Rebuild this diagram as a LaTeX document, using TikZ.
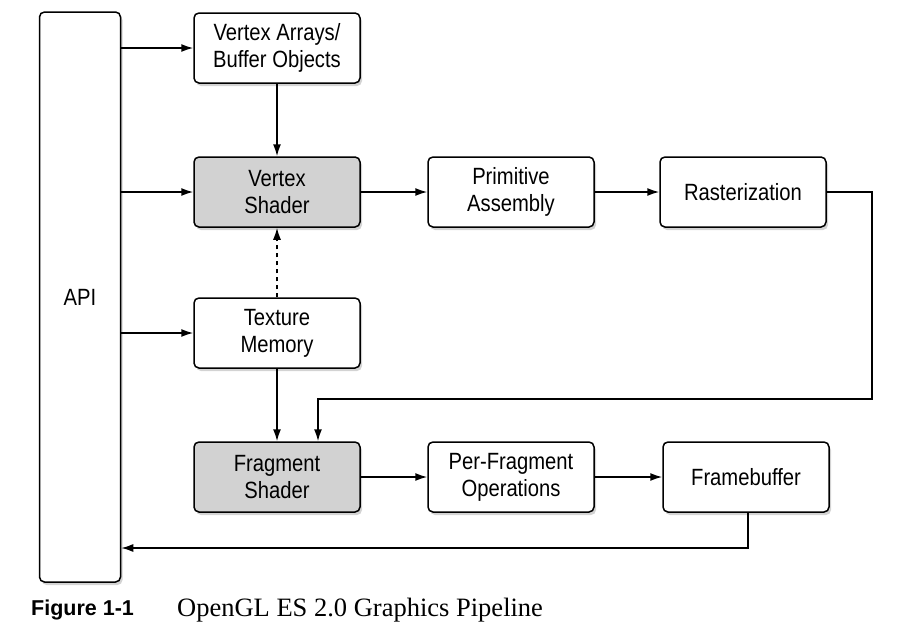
\documentclass[tikz,border=0pt]{standalone}
\usepackage{fontspec}
\usetikzlibrary{arrows.meta,shadows}
\newfontfamily\boxfont[FakeStretch=0.86]{Liberation Sans}
\newfontfamily\capsans{Liberation Sans}
\setmainfont{Liberation Serif}

\begin{document}
\begin{tikzpicture}[x=1pt, y=-1pt,
  stage/.style={draw, line width=1.5pt, rounded corners=5pt, fill=white, align=center,
    minimum width=166pt, minimum height=70pt, inner sep=0pt,
    font=\boxfont\fontsize{23.5}{27}\selectfont,
    drop shadow={shadow xshift=2pt, shadow yshift=-3pt, opacity=.35}},
  shader/.style={stage, fill=gray!35},
  flow/.style={line width=1.5pt, -{Latex[length=12pt,width=8pt]}}]
\useasboundingbox (0,0) rectangle (911,640);
\node[stage, minimum width=81pt, minimum height=570pt] (api) at (80,297) {API};
\node[stage] (varr) at (277,48) {Vertex Arrays/\\Buffer Objects};
\node[shader] (vsh) at (277,192) {Vertex\\Shader};
\node[stage] (prim) at (511,192) {Primitive\\Assembly};
\node[stage] (rast) at (743,192) {Rasterization};
\node[stage] (tex) at (277,333) {Texture\\Memory};
\node[shader] (fsh) at (277,477) {Fragment\\Shader};
\node[stage] (perfrag) at (511,477) {Per-Fragment\\Operations};
\node[stage] (fb) at (746,477) {Framebuffer};
% api feeds
\foreach \n in {varr,vsh,tex}{
\draw[flow] (api.east |- \n.west) -- (\n.west);
}
\draw[flow] (varr) -- (vsh);
\draw[flow, dash pattern=on 4pt off 4pt] (tex) -- (vsh);
\draw[flow] (tex) -- (fsh);
\draw[flow] (vsh) -- (prim);
\draw[flow] (prim) -- (rast);
\draw[flow] (fsh) -- (perfrag);
\draw[flow] (perfrag) -- (fb);
% loops back
\coordinate (rturn) at (872,399);
\draw[flow] (rast.east) -- (rast.east -| rturn) -- (rturn) -- (318,399) -- (fsh.north -| 318,0);
\coordinate (fturn) at (748,548);
\draw[flow] (fb.south -| fturn) -- (fturn) -- (api.east |- fturn);
% caption
\node[anchor=west, font=\capsans\bfseries\fontsize{21.5}{24}\selectfont, inner sep=0pt] (fig) at (31,610) {Figure 1-1};
\node[anchor=west, font=\fontsize{26.5}{30}\selectfont, inner sep=0pt] (cap) at (177,610) {OpenGL ES 2.0 Graphics Pipeline};
\end{tikzpicture}
\end{document}
